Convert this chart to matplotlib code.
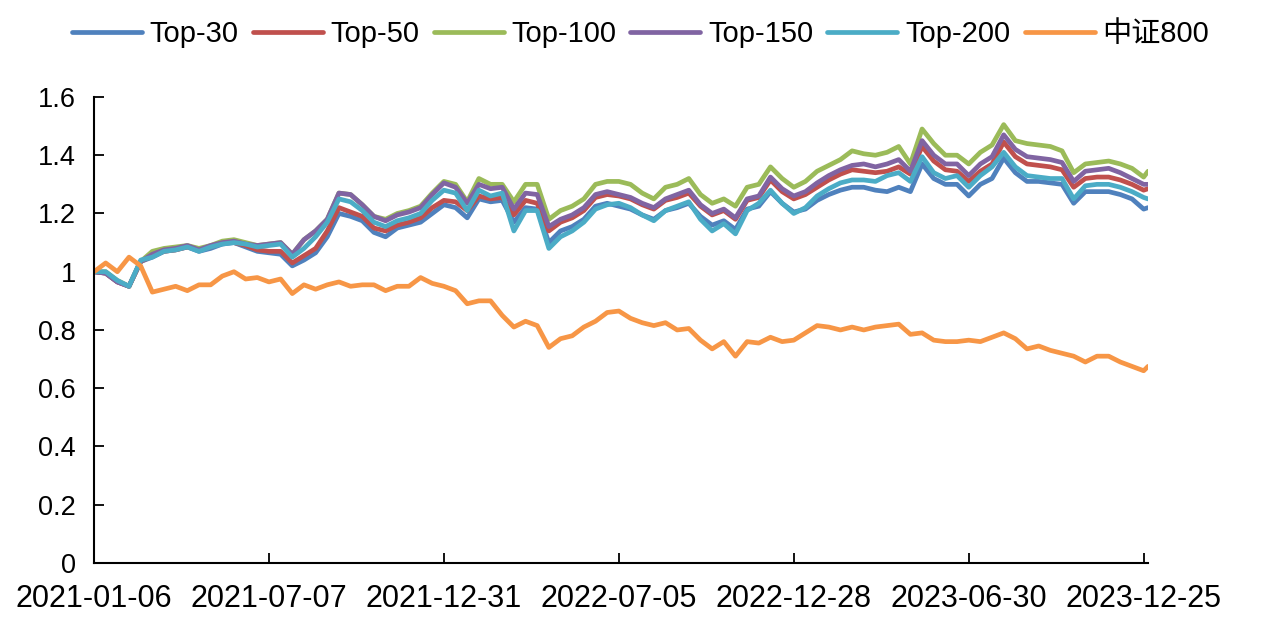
import numpy as np
import matplotlib
matplotlib.use('Agg')
import matplotlib.pyplot as plt

plt.rcParams['font.family'] = ['Liberation Sans', 'Noto Sans CJK SC']

# trading-day index, sampled every 8 days, plus the last day
days = list(range(0, 721, 8)) + [723]

tick_days = [0, 120, 240, 360, 480, 600, 720]
tick_labels = ['2021-01-06', '2021-07-07', '2021-12-31', '2022-07-05',
               '2022-12-28', '2023-06-30', '2023-12-25']

top30 = [1.00, 0.995, 0.965, 0.95, 1.035, 1.05, 1.07, 1.075, 1.085, 1.07,
         1.08, 1.095, 1.10, 1.085, 1.07, 1.065, 1.06, 1.02, 1.04, 1.065,
         1.12, 1.20, 1.19, 1.175, 1.135, 1.12, 1.15, 1.16, 1.17, 1.20,
         1.23, 1.22, 1.185, 1.25, 1.24, 1.245, 1.17, 1.22, 1.215, 1.10,
         1.14, 1.155, 1.18, 1.225, 1.235, 1.225, 1.215, 1.195, 1.18, 1.21,
         1.22, 1.235, 1.19, 1.16, 1.175, 1.145, 1.215, 1.225, 1.275, 1.235,
         1.205, 1.215, 1.245, 1.265, 1.28, 1.29, 1.29, 1.28, 1.275, 1.29,
         1.275, 1.37, 1.32, 1.30, 1.30, 1.26, 1.30, 1.32, 1.39, 1.34,
         1.31, 1.31, 1.305, 1.30, 1.235, 1.275, 1.275, 1.275, 1.265, 1.25,
         1.215, 1.22]
top50 = [1.00, 0.995, 0.965, 0.95, 1.035, 1.055, 1.07, 1.075, 1.085, 1.075,
         1.085, 1.10, 1.10, 1.09, 1.075, 1.07, 1.07, 1.03, 1.055, 1.08,
         1.14, 1.22, 1.205, 1.19, 1.15, 1.14, 1.16, 1.17, 1.185, 1.22,
         1.245, 1.24, 1.21, 1.26, 1.25, 1.255, 1.195, 1.245, 1.235, 1.14,
         1.17, 1.185, 1.21, 1.255, 1.265, 1.26, 1.25, 1.23, 1.215, 1.245,
         1.255, 1.27, 1.225, 1.195, 1.21, 1.18, 1.245, 1.255, 1.315, 1.275,
         1.25, 1.265, 1.29, 1.315, 1.335, 1.35, 1.345, 1.34, 1.345, 1.36,
         1.335, 1.43, 1.38, 1.35, 1.345, 1.31, 1.345, 1.37, 1.445, 1.395,
         1.37, 1.365, 1.36, 1.35, 1.29, 1.32, 1.325, 1.325, 1.315, 1.30,
         1.28, 1.285]
top100 = [1.00, 1.00, 0.97, 0.95, 1.035, 1.07, 1.08, 1.085, 1.09, 1.08,
          1.09, 1.105, 1.11, 1.10, 1.09, 1.095, 1.10, 1.06, 1.11, 1.14,
          1.18, 1.27, 1.265, 1.23, 1.19, 1.18, 1.20, 1.21, 1.225, 1.27,
          1.31, 1.30, 1.24, 1.32, 1.30, 1.30, 1.24, 1.30, 1.30, 1.18,
          1.21, 1.225, 1.25, 1.30, 1.31, 1.31, 1.30, 1.27, 1.25, 1.29,
          1.30, 1.32, 1.265, 1.235, 1.25, 1.225, 1.29, 1.30, 1.36, 1.32,
          1.29, 1.31, 1.345, 1.365, 1.385, 1.415, 1.405, 1.40, 1.41, 1.43,
          1.37, 1.49, 1.44, 1.40, 1.40, 1.37, 1.41, 1.435, 1.505, 1.45,
          1.44, 1.435, 1.43, 1.415, 1.34, 1.37, 1.375, 1.38, 1.37, 1.355,
          1.325, 1.345]
top150 = [1.00, 0.995, 0.965, 0.95, 1.035, 1.06, 1.075, 1.08, 1.09, 1.075,
          1.09, 1.10, 1.105, 1.095, 1.09, 1.095, 1.10, 1.06, 1.11, 1.14,
          1.18, 1.27, 1.265, 1.23, 1.19, 1.175, 1.195, 1.205, 1.22, 1.265,
          1.305, 1.29, 1.235, 1.30, 1.285, 1.29, 1.215, 1.27, 1.265, 1.155,
          1.18, 1.195, 1.22, 1.265, 1.275, 1.265, 1.255, 1.235, 1.22, 1.25,
          1.265, 1.28, 1.23, 1.20, 1.215, 1.185, 1.25, 1.26, 1.325, 1.285,
          1.26, 1.275, 1.305, 1.33, 1.35, 1.365, 1.37, 1.36, 1.37, 1.385,
          1.345, 1.45, 1.40, 1.37, 1.37, 1.33, 1.37, 1.395, 1.47, 1.42,
          1.395, 1.39, 1.385, 1.375, 1.31, 1.345, 1.35, 1.355, 1.34, 1.32,
          1.30, 1.30]
top200 = [1.00, 1.00, 0.97, 0.95, 1.04, 1.05, 1.07, 1.075, 1.085, 1.07,
          1.085, 1.095, 1.10, 1.095, 1.085, 1.09, 1.095, 1.05, 1.08, 1.12,
          1.17, 1.25, 1.24, 1.21, 1.17, 1.155, 1.175, 1.185, 1.20, 1.245,
          1.28, 1.27, 1.21, 1.28, 1.26, 1.27, 1.14, 1.21, 1.21, 1.08,
          1.12, 1.14, 1.17, 1.215, 1.23, 1.235, 1.22, 1.195, 1.175, 1.21,
          1.225, 1.24, 1.18, 1.14, 1.165, 1.13, 1.21, 1.235, 1.28, 1.235,
          1.20, 1.22, 1.26, 1.285, 1.305, 1.315, 1.315, 1.31, 1.33, 1.34,
          1.31, 1.395, 1.34, 1.32, 1.33, 1.29, 1.33, 1.36, 1.41, 1.36,
          1.33, 1.325, 1.32, 1.32, 1.25, 1.295, 1.30, 1.30, 1.29, 1.275,
          1.255, 1.25]
csi800 = [1.00, 1.03, 1.00, 1.05, 1.02, 0.93, 0.94, 0.95, 0.935, 0.955,
          0.955, 0.985, 1.00, 0.975, 0.98, 0.965, 0.975, 0.925, 0.955, 0.94,
          0.955, 0.965, 0.95, 0.955, 0.955, 0.935, 0.95, 0.95, 0.98, 0.96,
          0.95, 0.935, 0.89, 0.90, 0.90, 0.85, 0.81, 0.83, 0.815, 0.74,
          0.77, 0.78, 0.81, 0.83, 0.86, 0.865, 0.84, 0.825, 0.815, 0.825,
          0.80, 0.805, 0.765, 0.735, 0.76, 0.71, 0.76, 0.755, 0.775, 0.76,
          0.765, 0.79, 0.815, 0.81, 0.80, 0.81, 0.80, 0.81, 0.815, 0.82,
          0.785, 0.79, 0.765, 0.76, 0.76, 0.765, 0.76, 0.775, 0.79, 0.77,
          0.735, 0.745, 0.73, 0.72, 0.71, 0.69, 0.71, 0.71, 0.69, 0.675,
          0.66, 0.675]

series = [('Top-30', top30, '#4F81BD'),
          ('Top-50', top50, '#C0504D'),
          ('Top-100', top100, '#9BBB59'),
          ('Top-150', top150, '#8064A2'),
          ('Top-200', top200, '#4BACC6'),
          ('中证800', csi800, '#F79646')]

fig = plt.figure(figsize=(12.81, 6.24), dpi=100)
ax = fig.add_axes([0.0734, 0.0978, 0.8228, 0.7468])

for name, vals, color in series:
    ax.plot(days, vals, color=color, lw=3.4, label=name,
            solid_joinstyle='round', solid_capstyle='round')

ax.set_xlim(0, 723)
ax.set_ylim(0, 1.6)
ax.set_yticks([0, 0.2, 0.4, 0.6, 0.8, 1.0, 1.2, 1.4, 1.6])
ax.set_yticklabels(['0', '0.2', '0.4', '0.6', '0.8', '1', '1.2', '1.4', '1.6'])
ax.set_xticks(tick_days)
ax.set_xticklabels(tick_labels)
ax.tick_params(direction='in', length=7, width=1.3, colors='black')
ax.tick_params(axis='y', labelsize=19.5, pad=13)
ax.tick_params(axis='x', labelsize=22, pad=15)
for s in ['top', 'right']:
    ax.spines[s].set_visible(False)
for s in ['left', 'bottom']:
    ax.spines[s].set_linewidth(1.5)
    ax.spines[s].set_color('black')

fig.legend(loc='upper center', bbox_to_anchor=(0.5, 1.0), ncol=6, frameon=False,
           fontsize=21, handlelength=2.4, handletextpad=0.27, columnspacing=0.48,
           borderaxespad=0.3)

fig.savefig('out.png', dpi=100)
